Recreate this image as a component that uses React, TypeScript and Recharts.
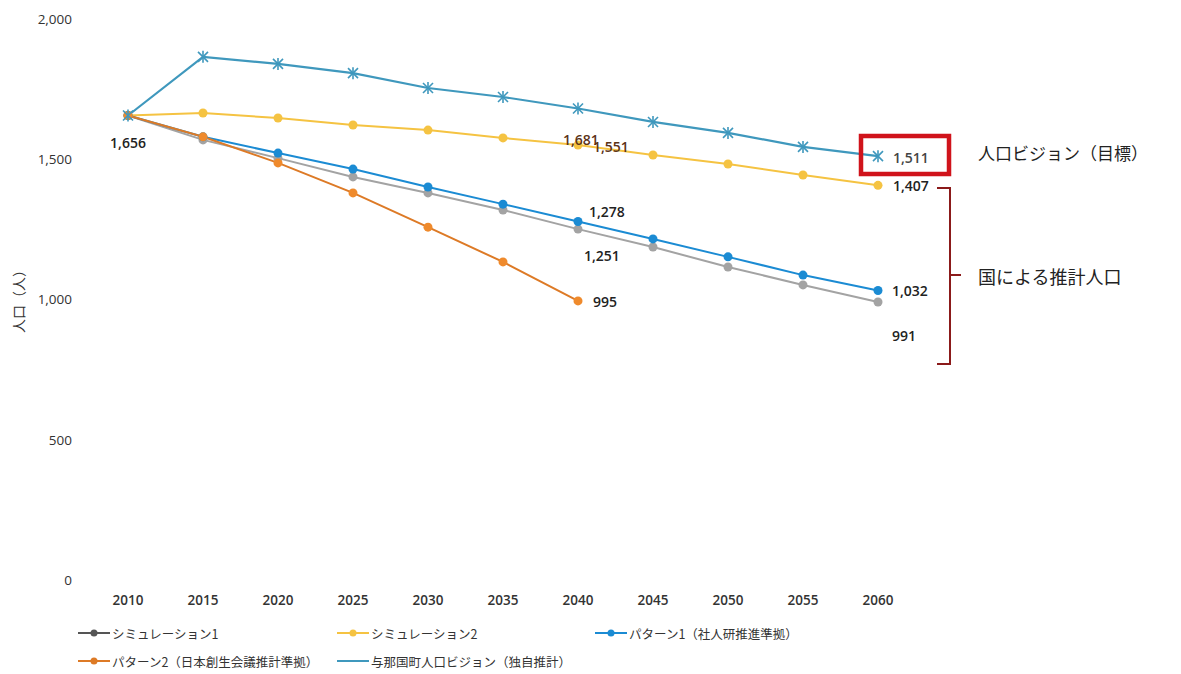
import { LineChart, Line, XAxis, YAxis } from "recharts";

const years = ["2010", "2015", "2020", "2025", "2030", "2035", "2040", "2045", "2050", "2055", "2060"];
const sim1 = [1656, 1569, 1504, 1437, 1380, 1319, 1251, 1187, 1116, 1052, 991];
const sim2 = [1656, 1665, 1647, 1622, 1604, 1576, 1551, 1515, 1483, 1444, 1407];
const pattern1 = [1656, 1580, 1522, 1465, 1401, 1340, 1278, 1216, 1152, 1087, 1032];
const pattern2 = [1656, 1580, 1487, 1380, 1258, 1134, 995, null, null, null, null];
const vision = [1656, 1865, 1840, 1807, 1754, 1722, 1681, 1633, 1594, 1544, 1511];
const yTicks = [0, 500, 1000, 1500, 2000];

const seriesNames = {
  sim1: "シミュレーション1",
  sim2: "シミュレーション2",
  pattern1: "パターン1（社人研推進準拠）",
  pattern2: "パターン2（日本創生会議推計準拠）",
  vision: "与那国町人口ビジョン（独自推計）",
};

const colors = {
  sim1: "#a3a3a3",
  sim2: "#f5c342",
  pattern1: "#1b8bd3",
  pattern2: "#dd7a26",
  vision: "#3f98bd",
};

const data = years.map((year, i) => ({
  year,
  sim1: sim1[i],
  sim2: sim2[i],
  pattern1: pattern1[i],
  pattern2: pattern2[i],
  vision: vision[i],
}));

// where each data label sits relative to its point
const labelSpots: Record<string, { dx: number; dy: number; anchor?: string; color?: string }> = {
  "sim1-2010": { dx: 0, dy: 29, anchor: "middle" },
  "vision-2040": { dx: -15, dy: 33, color: "#5c3317" },
  "sim2-2040": { dx: 15, dy: 3, color: "#5c3317" },
  "pattern1-2040": { dx: 11, dy: -8 },
  "sim1-2040": { dx: 6, dy: 28 },
  "pattern2-2040": { dx: 15, dy: 2 },
  "vision-2060": { dx: 15, dy: 3, color: "#444" },
  "sim2-2060": { dx: 15, dy: 2 },
  "pattern1-2060": { dx: 14, dy: 2 },
  "sim1-2060": { dx: 14, dy: 35 },
};

const numFont = "'Open Sans', 'Noto Sans', sans-serif";
const jpFont = "'Noto Sans CJK JP', sans-serif";

const makeLabel = (key: string) => (props: any) => {
  const { x, y, value, index } = props;
  const spot = labelSpots[`${key}-${years[index]}`];
  if (!spot || value == null) return <g key={`${key}-l-${index}`} />;
  return (
    <text
      key={`${key}-l-${index}`}
      x={x + spot.dx}
      y={y + spot.dy}
      textAnchor={spot.anchor ?? "start"}
      dominantBaseline="middle"
      fontFamily={numFont}
      fontSize={14}
      fontWeight={600}
      fill={spot.color ?? "#222"}
    >
      {Number(value).toLocaleString("en-US")}
    </text>
  );
};

const circleDot = (color: string) => (props: any) => {
  const { cx, cy, index, value } = props;
  if (value == null || cx == null || cy == null) return <g key={`d-${index}`} />;
  return <circle key={`d-${index}`} cx={cx} cy={cy} r={4.5} fill={color} stroke="none" />;
};

const starDot = (props: any) => {
  const { cx, cy, index } = props;
  const c = colors.vision;
  return (
    <g key={`s-${index}`} stroke={c} strokeWidth={1.6}>
      <line x1={cx - 5} y1={cy - 5} x2={cx + 5} y2={cy + 5} />
      <line x1={cx - 5} y1={cy + 5} x2={cx + 5} y2={cy - 5} />
      <line x1={cx} y1={cy - 6} x2={cx} y2={cy + 6} />
    </g>
  );
};

const legendItems = [
  { key: "sim1", left: 78, top: 633, sample: "#555" },
  { key: "sim2", left: 337, top: 633, sample: "#f5c342" },
  { key: "pattern1", left: 595, top: 633, sample: "#1b8bd3" },
  { key: "pattern2", left: 78, top: 661, sample: "#dd7a26" },
  { key: "vision", left: 337, top: 661, sample: "#3f98bd", noDot: true },
];

export default function App() {
  return (
    <div style={{ position: "relative", width: 1181, height: 674, background: "#fff" }}>
      <style>{`body{margin:0}`}</style>
      <LineChart width={1181} height={674} data={data} margin={{ top: 19, right: 303, left: 0, bottom: 0 }}>
        <XAxis
          dataKey="year"
          height={94}
          axisLine={false}
          tickLine={false}
          tickMargin={9}
          tick={{ fontFamily: numFont, fontSize: 13.5, fontWeight: 600, fill: "#333" }}
        />
        <YAxis
          width={128}
          domain={[0, 2000]}
          ticks={yTicks}
          axisLine={false}
          tickLine={false}
          tickMargin={50}
          tickFormatter={(v: number) => v.toLocaleString("en-US")}
          tick={{ fontFamily: numFont, fontSize: 13.5, fill: "#333" }}
        />
        <Line
          dataKey="sim1"
          stroke={colors.sim1}
          strokeWidth={2}
          dot={circleDot(colors.sim1)}
          label={makeLabel("sim1")}
          isAnimationActive={false}
        />
        <Line
          dataKey="sim2"
          stroke={colors.sim2}
          strokeWidth={2}
          dot={circleDot(colors.sim2)}
          label={makeLabel("sim2")}
          isAnimationActive={false}
        />
        <Line
          dataKey="pattern1"
          stroke={colors.pattern1}
          strokeWidth={2}
          dot={circleDot(colors.pattern1)}
          label={makeLabel("pattern1")}
          isAnimationActive={false}
        />
        <Line
          dataKey="pattern2"
          stroke={colors.pattern2}
          strokeWidth={2}
          dot={circleDot("#ef8a2c")}
          label={makeLabel("pattern2")}
          isAnimationActive={false}
        />
        <Line
          dataKey="vision"
          stroke={colors.vision}
          strokeWidth={2.2}
          dot={starDot}
          label={makeLabel("vision")}
          isAnimationActive={false}
        />
      </LineChart>

      {/* axis title */}
      <div
        style={{
          position: "absolute",
          left: 18,
          top: 298,
          transform: "translate(-50%, -50%) rotate(-90deg)",
          fontFamily: jpFont,
          fontSize: 14,
          color: "#333",
          whiteSpace: "nowrap",
        }}
      >
        人口（人）
      </div>

      {/* legend */}
      {legendItems.map((it) => (
        <div
          key={it.key}
          style={{
            position: "absolute",
            left: it.left,
            top: it.top - 9,
            height: 18,
            display: "flex",
            alignItems: "center",
            fontFamily: jpFont,
            fontSize: 12.5,
            color: "#333",
            whiteSpace: "nowrap",
          }}
        >
          <svg width={33} height={18} style={{ marginRight: 1 }}>
            <line x1={0} y1={9} x2={32} y2={9} stroke={it.sample} strokeWidth={2} />
            {!it.noDot && <circle cx={16} cy={9} r={3.5} fill={it.sample} />}
          </svg>
          {seriesNames[it.key as keyof typeof seriesNames]}
        </div>
      ))}

      {/* annotations */}
      <svg width={1181} height={674} style={{ position: "absolute", left: 0, top: 0, pointerEvents: "none" }}>
        <rect x={861} y={136} width={88} height={38} fill="none" stroke="#d0131b" strokeWidth={4.5} />
        <path d="M937 188 H950 V364 H937 M950 275 H961" fill="none" stroke="#8b1a1a" strokeWidth={2} />
        <text x={978} y={155} dominantBaseline="middle" fontFamily={jpFont} fontSize={17} fill="#222">
          人口ビジョン（目標）
        </text>
        <text x={978} y={279} dominantBaseline="middle" fontFamily={jpFont} fontSize={18} fill="#222">
          国による推計人口
        </text>
      </svg>
    </div>
  );
}
